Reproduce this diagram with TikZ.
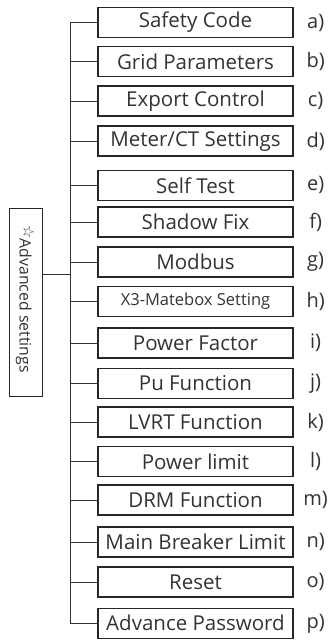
\documentclass[tikz,border=0pt]{standalone}
\usepackage{fontspec}
\setmainfont{Open Sans}
\newfontfamily\symfont{DejaVu Sans}
\begin{document}
\begin{tikzpicture}[x=1pt,y=-1pt,
  itembox/.style={draw=black!85,line width=1.3pt,minimum width=195pt,minimum height=30pt,inner sep=0pt,font=\fontsize{20.5}{24}\selectfont,text=black!80},
  itemlbl/.style={font=\fontsize{20}{24}\selectfont,text=black!80,inner sep=0pt},
  conn/.style={draw=black!80,line width=0.9pt}]
\useasboundingbox (0,0) rectangle (329,640);
\node[itembox] (a) at (195.5,22.5) {Safety Code};
\node[itembox] (b) at (195.5,61.5) {Grid Parameters};
\node[itembox] (c) at (195.5,101) {Export Control};
\node[itembox] (d) at (195.5,141) {Meter/CT Settings};
\node[itembox] (e) at (195.5,185.3) {Self Test};
\node[itembox] (f) at (195.5,222) {Shadow Fix};
\node[itembox] (g) at (195.5,262) {Modbus};
\node[itembox,font=\fontsize{16.5}{19}\selectfont] (h) at (195.5,301.7) {X3-Matebox Setting};
\node[itembox] (i) at (195.5,343) {Power Factor};
\node[itembox] (j) at (195.5,383.3) {Pu Function};
\node[itembox] (k) at (195.5,422) {LVRT Function};
\node[itembox] (l) at (195.5,461.7) {Power limit};
\node[itembox] (m) at (195.5,500) {DRM Function};
\node[itembox] (n) at (195.5,542) {Main Breaker Limit};
\node[itembox] (o) at (195.5,582) {Reset};
\node[itembox] (p) at (195.5,623.3) {Advance Password};
\foreach \n in {a,b,c,d,e,f,g,h,i,j,k,l,m,n,o,p}{
  \node[itemlbl] (lbl\n) at ([xshift=22pt]\n.east) {\n)};
}
\node[draw=black!85,line width=1.1pt,minimum width=33pt,minimum height=188.4pt,inner sep=0pt] (adv) at (25.8,302.5) {};
\node[rotate=-90,inner sep=0pt,font=\fontsize{15.8}{18}\selectfont,text=black!80] (advt) at (25,299) {\raisebox{0.45ex}{\symfont\fontsize{15}{16}\selectfont ☆}Advanced settings};
\coordinate (bus) at (70,274);
\draw[conn] (a.west -| bus) -- (p.west -| bus);
\foreach \n in {a,b,c,d,e,f,g,h,i,j,k,l,m,n,o,p}{
  \draw[conn] (\n.west) -- (\n.west -| bus);
}
\draw[conn] (bus -| adv.east) -- (bus);
\end{tikzpicture}
\end{document}
